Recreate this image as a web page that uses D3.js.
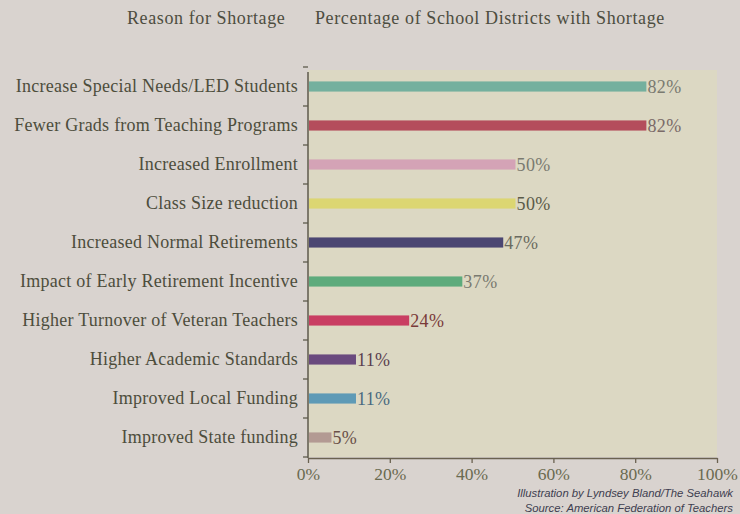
<!DOCTYPE html>
<html>
<head>
<meta charset="utf-8">
<script src="https://cdn.jsdelivr.net/npm/d3@7"></script>
<style>
  html, body { margin: 0; padding: 0; background: #d9d3cf; }
  svg { display: block; }
</style>
</head>
<body>
<svg id="chart" width="740" height="514"></svg>
<script>
const reasons = [
  "Increase Special Needs/LED Students",
  "Fewer Grads from Teaching Programs",
  "Increased Enrollment",
  "Class Size reduction",
  "Increased Normal Retirements",
  "Impact of Early Retirement Incentive",
  "Higher Turnover of Veteran Teachers",
  "Higher Academic Standards",
  "Improved Local Funding",
  "Improved State funding"
];
const percents = [82, 82, 50, 50, 47, 37, 24, 11, 11, 5];
const barColors = ["#74b09e", "#b44d5c", "#d4a3b6", "#dcd672", "#4b4672", "#5eab7c", "#c93e62", "#6a4a7e", "#5e9ab6", "#b39a93"];
const labelColors = ["#7a7a70", "#7a6a68", "#7a7a70", "#5a5a48", "#6a6a60", "#7a7a70", "#7a3a3a", "#5a4050", "#4a6a80", "#6a5048"];
const xTicks = [0, 20, 40, 60, 80, 100];
const titles = ["Reason for Shortage", "Percentage of School Districts with Shortage"];
const credits = ["Illustration by Lyndsey Bland/The Seahawk", "Source: American Federation of Teachers"];

const svg = d3.select("#chart");
const W = 740, H = 514;
const margin = { left: 308, right: 24, top: 67, bottom: 57 };
const serif = "Liberation Serif, 'Times New Roman', serif";

const x = d3.scaleLinear().domain([0, 100]).range([margin.left, 717]);
const y = d3.scaleBand().domain(reasons).range([margin.top, H - margin.bottom]).paddingInner(0.74).paddingOuter(0.37);

// background
svg.append("rect").attr("width", W).attr("height", H).attr("fill", "#d9d3cf");
svg.append("rect")
  .attr("x", margin.left).attr("y", 70)
  .attr("width", 717 - margin.left).attr("height", 457 - 70)
  .attr("fill", "#dcd8c3");

// titles
svg.append("text").attr("x", 127).attr("y", 24)
  .attr("font-family", serif).attr("font-size", 18).attr("letter-spacing", 0.6)
  .attr("fill", "#4d4d40").text(titles[0]);
svg.append("text").attr("x", 315).attr("y", 24)
  .attr("font-family", serif).attr("font-size", 18).attr("letter-spacing", 0.6)
  .attr("fill", "#4d4d40").text(titles[1]);

// bars
const data = reasons.map((r, i) => ({ r, v: percents[i], c: barColors[i], lc: labelColors[i] }));
svg.append("g").selectAll("rect").data(data).join("rect")
  .attr("x", x(0) + 1)
  .attr("y", d => y(d.r))
  .attr("width", d => x(d.v) - x(0) + 2)
  .attr("height", y.bandwidth())
  .attr("fill", d => d.c);

// value labels
svg.append("g").selectAll("text").data(data).join("text")
  .attr("x", d => x(d.v) + 4)
  .attr("y", d => y(d.r) + y.bandwidth() / 2)
  .attr("dy", "0.36em")
  .attr("font-family", serif).attr("font-size", 18).attr("letter-spacing", 0.4)
  .attr("fill", d => d.lc)
  .text(d => d.v + "%");

// y axis
const yAxis = d3.axisLeft(y).tickSize(0).tickPadding(10);
const gy = svg.append("g").attr("transform", `translate(${margin.left},0)`).call(yAxis);
gy.select(".domain").remove();
gy.selectAll("text")
  .attr("font-family", serif).attr("font-size", 18).attr("letter-spacing", 0.25)
  .attr("fill", "#4d4d3c");
svg.append("line")
  .attr("x1", margin.left).attr("x2", margin.left)
  .attr("y1", 72).attr("y2", 458)
  .attr("stroke", "#5e5a4c").attr("stroke-width", 1.5);
// small ticks between rows
const step = y.step();
const bounds = reasons.map(r => y(r) - (step - y.bandwidth()) / 2).concat([y(reasons[reasons.length - 1]) + y.bandwidth() + (step - y.bandwidth()) / 2]);
svg.append("g").selectAll("line").data(bounds).join("line")
  .attr("x1", margin.left - 5).attr("x2", margin.left)
  .attr("y1", d => d).attr("y2", d => d)
  .attr("stroke", "#5e5a4c").attr("stroke-width", 1.3);

// x axis
const xAxis = d3.axisBottom(x).tickValues(xTicks).tickFormat(d => d + "%").tickSize(5).tickPadding(5).tickSizeOuter(0);
const gx = svg.append("g").attr("transform", `translate(0,458)`).call(xAxis);
gx.select(".domain").attr("stroke", "#6a6250").attr("stroke-width", 1.5);
gx.selectAll(".tick line").attr("stroke", "#6a6250").attr("stroke-width", 1.3);
gx.selectAll("text")
  .attr("font-family", serif).attr("font-size", 17.5)
  .attr("fill", "#6a6a50");

// credits
svg.append("g").selectAll("text").data(credits).join("text")
  .attr("x", 733).attr("y", (d, i) => 497 + i * 14.5)
  .attr("text-anchor", "end")
  .attr("font-family", "Liberation Sans, sans-serif").attr("font-style", "italic").attr("font-size", 11.3)
  .attr("fill", "#3e3e50")
  .text(d => d);
</script>
</body>
</html>
